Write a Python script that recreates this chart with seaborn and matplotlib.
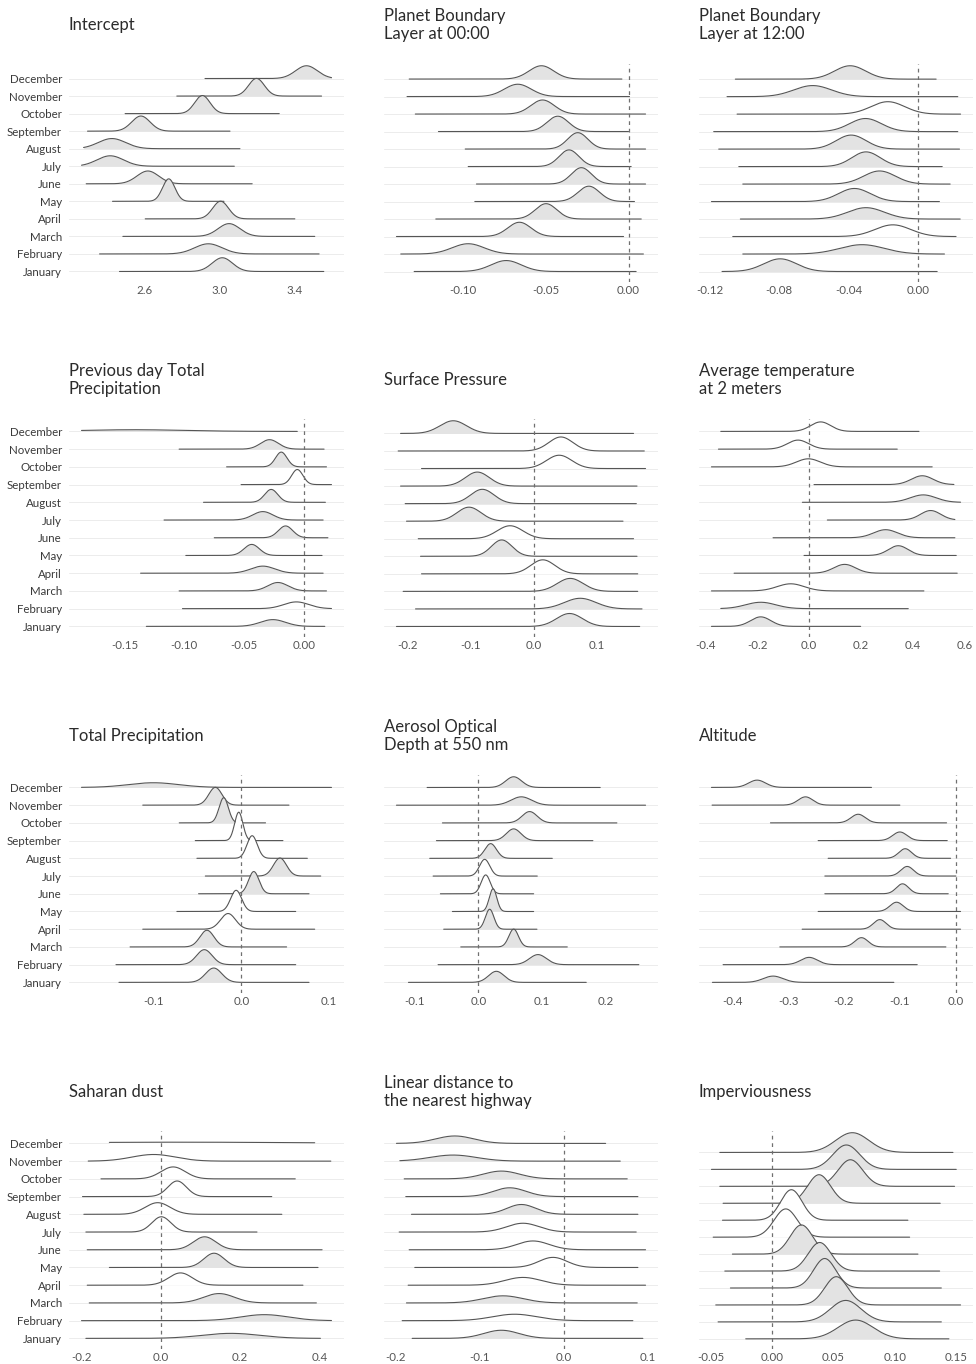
import numpy as np
import matplotlib
matplotlib.use("Agg")
import matplotlib.pyplot as plt
import seaborn as sns

# Posterior summaries per month (January .. December): mean, sd, sample min/max,
# and whether the 95% credible interval excludes zero (shaded).
MONTHS = ["January", "February", "March", "April", "May", "June", "July",
          "August", "September", "October", "November", "December"]

intercept_mean = [3.014, 2.940, 3.050, 3.005, 2.729, 2.618, 2.418, 2.427, 2.581, 2.908, 3.196, 3.462]
intercept_sd = [0.054, 0.073, 0.058, 0.042, 0.033, 0.058, 0.071, 0.073, 0.049, 0.041, 0.042, 0.058]
intercept_lo = [2.467, 2.361, 2.485, 2.604, 2.430, 2.290, 2.265, 2.276, 2.297, 2.497, 2.772, 2.922]
intercept_hi = [3.554, 3.529, 3.506, 3.400, 3.023, 3.173, 3.078, 3.108, 3.055, 3.317, 3.542, 3.595]
intercept_shaded = [1, 1, 1, 1, 1, 1, 1, 1, 1, 1, 1, 1]

pbl00_mean = [-0.0740, -0.0970, -0.0660, -0.0499, -0.0240, -0.0285, -0.0360, -0.0307, -0.0428, -0.0520, -0.0670, -0.0527]
pbl00_sd = [0.0091, 0.0097, 0.0070, 0.0065, 0.0065, 0.0061, 0.0060, 0.0061, 0.0065, 0.0071, 0.0081, 0.0075]
pbl00_lo = [-0.1297, -0.1378, -0.1404, -0.1166, -0.0930, -0.0920, -0.0970, -0.0988, -0.1150, -0.1290, -0.1340, -0.1327]
pbl00_hi = [0.0046, 0.0090, -0.0030, 0.0077, 0.0036, 0.0103, 0.0016, 0.0103, 0.0000, 0.0103, 0.0006, -0.0040]
pbl00_shaded = [1, 1, 1, 1, 1, 1, 1, 1, 1, 1, 1, 1]

pbl12_mean = [-0.0795, -0.0322, -0.0144, -0.0299, -0.0366, -0.0221, -0.0299, -0.0385, -0.0302, -0.0173, -0.0607, -0.0391]
pbl12_sd = [0.0095, 0.0129, 0.0103, 0.0106, 0.0092, 0.0092, 0.0082, 0.0086, 0.0092, 0.0097, 0.0109, 0.0090]
pbl12_lo = [-0.1131, -0.1011, -0.1069, -0.1025, -0.1192, -0.1011, -0.1034, -0.1150, -0.1179, -0.1044, -0.1102, -0.1054]
pbl12_hi = [0.0112, 0.0154, 0.0221, 0.0245, 0.0125, 0.0187, 0.0141, 0.0241, 0.0231, 0.0247, 0.0231, 0.0106]
pbl12_shaded = [1, 1, 0, 1, 1, 1, 1, 1, 1, 0, 1, 1]

prevprec_mean = [-0.0260, -0.0064, -0.0218, -0.0344, -0.0437, -0.0154, -0.0344, -0.0274, -0.0056, -0.0190, -0.0288, -0.1420]
prevprec_sd = [0.0105, 0.0105, 0.0084, 0.0100, 0.0064, 0.0060, 0.0084, 0.0055, 0.0047, 0.0048, 0.0075, 0.0420]
prevprec_lo = [-0.1318, -0.1016, -0.1044, -0.1366, -0.0988, -0.0750, -0.1170, -0.0840, -0.0526, -0.0647, -0.1044, -0.1860]
prevprec_hi = [0.0174, 0.0230, 0.0188, 0.0160, 0.0151, 0.0200, 0.0160, 0.0179, 0.0230, 0.0188, 0.0168, -0.0056]
prevprec_shaded = [1, 0, 1, 1, 1, 1, 1, 1, 0, 1, 1, 1]

pressure_mean = [0.0566, 0.0735, 0.0577, 0.0143, -0.0508, -0.0376, -0.1026, -0.0815, -0.0894, 0.0402, 0.0429, -0.1275]
pressure_sd = [0.0205, 0.0250, 0.0205, 0.0190, 0.0163, 0.0205, 0.0190, 0.0186, 0.0190, 0.0200, 0.0190, 0.0210]
pressure_lo = [-0.2175, -0.1873, -0.2069, -0.1778, -0.1794, -0.1830, -0.2016, -0.2037, -0.2110, -0.1778, -0.2148, -0.2110]
pressure_hi = [0.1677, 0.1714, 0.1646, 0.1646, 0.1635, 0.1580, 0.1413, 0.1624, 0.1635, 0.1770, 0.1750, 0.1580]
pressure_shaded = [1, 1, 1, 0, 1, 0, 1, 1, 1, 0, 0, 1]

temp_mean = [-0.1866, -0.1866, -0.0708, 0.1377, 0.3450, 0.2960, 0.4700, 0.4414, 0.4376, -0.0026, -0.0425, 0.0450]
temp_sd = [0.039, 0.058, 0.052, 0.042, 0.038, 0.046, 0.039, 0.050, 0.042, 0.046, 0.041, 0.039]
temp_lo = [-0.377, -0.341, -0.377, -0.2896, -0.0193, -0.139, 0.0708, -0.0257, 0.0193, -0.377, -0.350, -0.341]
temp_hi = [0.1995, 0.3835, 0.444, 0.5727, 0.569, 0.5637, 0.5637, 0.5856, 0.560, 0.476, 0.341, 0.425]
temp_shaded = [1, 1, 0, 1, 1, 1, 1, 1, 1, 0, 0, 0]

prec_mean = [-0.0317, -0.0424, -0.0394, -0.0153, -0.0061, 0.0141, 0.0440, 0.0122, -0.0031, -0.0203, -0.0298, -0.1006]
prec_sd = [0.0093, 0.0089, 0.0080, 0.0085, 0.0063, 0.0060, 0.0074, 0.0059, 0.0047, 0.0053, 0.0075, 0.0286]
prec_lo = [-0.1400, -0.1434, -0.1273, -0.1128, -0.0738, -0.0490, -0.0413, -0.0509, -0.0528, -0.0711, -0.1128, -0.1828]
prec_hi = [0.0772, 0.0620, 0.0516, 0.0837, 0.0620, 0.0772, 0.0906, 0.0753, 0.0474, 0.0275, 0.0543, 0.1029]
prec_shaded = [1, 1, 1, 0, 0, 1, 1, 0, 0, 1, 1, 1]

aod_mean = [0.0282, 0.0934, 0.0553, 0.0177, 0.0230, 0.0115, 0.0099, 0.0193, 0.0553, 0.0803, 0.0673, 0.0553]
aod_sd = [0.0121, 0.0133, 0.0075, 0.0067, 0.0059, 0.0071, 0.0080, 0.0091, 0.0114, 0.0118, 0.0160, 0.0125]
aod_lo = [-0.1095, -0.0631, -0.0276, -0.0543, -0.0407, -0.0595, -0.0709, -0.0762, -0.0657, -0.0563, -0.1283, -0.0803]
aod_hi = [0.1690, 0.2514, 0.1393, 0.0918, 0.0866, 0.0866, 0.0923, 0.1158, 0.1794, 0.2170, 0.2619, 0.1909]
aod_shaded = [1, 1, 1, 1, 1, 0, 0, 1, 1, 1, 1, 1]

alt_mean = [-0.3268, -0.2624, -0.1688, -0.1360, -0.1061, -0.0954, -0.0871, -0.0906, -0.1002, -0.1747, -0.2689, -0.3554]
alt_sd = [0.0174, 0.0150, 0.0118, 0.0114, 0.0118, 0.0110, 0.0114, 0.0114, 0.0127, 0.0127, 0.0132, 0.0150]
alt_lo = [-0.4353, -0.4162, -0.3148, -0.2749, -0.2463, -0.2343, -0.2343, -0.2284, -0.2463, -0.3315, -0.4359, -0.4370]
alt_hi = [-0.1109, -0.0692, -0.0179, 0.0083, 0.0083, -0.0137, 0.0000, -0.0095, -0.0155, -0.0167, -0.1002, -0.1509]
alt_shaded = [1, 1, 1, 1, 1, 1, 1, 1, 1, 1, 1, 1]

dust_mean = [0.1767, 0.2612, 0.1471, 0.0499, 0.1344, 0.1107, 0.0017, -0.0076, 0.0414, 0.0313, -0.0178, 0.0500]
dust_sd = [0.073, 0.061, 0.039, 0.0297, 0.0256, 0.0282, 0.0239, 0.0314, 0.0234, 0.0306, 0.055, 0.300]
dust_lo = [-0.1885, -0.1995, -0.1800, -0.1851, -0.1293, -0.1851, -0.1885, -0.1936, -0.1970, -0.1505, -0.1826, -0.1293]
dust_hi = [0.4024, 0.4303, 0.3922, 0.3584, 0.3964, 0.4066, 0.2426, 0.3052, 0.2798, 0.3390, 0.4286, 0.3880]
dust_shaded = [1, 1, 1, 0, 1, 1, 0, 0, 0, 0, 0, 0]

highway_mean = [-0.0741, -0.0583, -0.0721, -0.0484, -0.0127, -0.0365, -0.0484, -0.0503, -0.0642, -0.0741, -0.1316, -0.1296]
highway_sd = [0.0208, 0.0263, 0.0238, 0.0217, 0.0167, 0.0192, 0.0192, 0.0172, 0.0192, 0.0217, 0.0278, 0.0227]
highway_lo = [-0.1803, -0.1922, -0.1871, -0.1851, -0.1772, -0.1839, -0.1958, -0.1811, -0.1879, -0.1898, -0.1950, -0.1990]
highway_hi = [0.0943, 0.0824, 0.0876, 0.0975, 0.0884, 0.0975, 0.0864, 0.0884, 0.0884, 0.0757, 0.0674, 0.0500]
highway_shaded = [1, 0, 1, 0, 0, 0, 0, 1, 1, 1, 1, 1]

imperv_mean = [0.0680, 0.0599, 0.0522, 0.0427, 0.0386, 0.0237, 0.0109, 0.0155, 0.0381, 0.0637, 0.0604, 0.0653]
imperv_sd = [0.0143, 0.0125, 0.0095, 0.0091, 0.0094, 0.0092, 0.0095, 0.0088, 0.0094, 0.0101, 0.0110, 0.0136]
imperv_lo = [-0.0218, -0.0444, -0.0463, -0.0343, -0.0389, -0.0327, -0.0484, -0.0408, -0.0403, -0.0430, -0.0498, -0.0430]
imperv_hi = [0.1442, 0.1380, 0.1537, 0.1380, 0.1366, 0.1189, 0.1121, 0.1107, 0.1371, 0.1488, 0.1502, 0.1475]
imperv_shaded = [1, 1, 1, 1, 1, 1, 0, 0, 1, 1, 1, 1]

# Tick values and their printed labels per panel
intercept_ticks = [2.6, 3.0, 3.4]
intercept_ticklabels = ["2.6", "3.0", "3.4"]
pbl00_ticks = [-0.10, -0.05, 0.00]
pbl00_ticklabels = ["-0.10", "-0.05", "0.00"]
pbl12_ticks = [-0.12, -0.08, -0.04, 0.00]
pbl12_ticklabels = ["-0.12", "-0.08", "-0.04", "0.00"]
prevprec_ticks = [-0.15, -0.10, -0.05, 0.00]
prevprec_ticklabels = ["-0.15", "-0.10", "-0.05", "0.00"]
pressure_ticks = [-0.2, -0.1, 0.0, 0.1]
pressure_ticklabels = ["-0.2", "-0.1", "0.0", "0.1"]
temp_ticks = [-0.4, -0.2, 0.0, 0.2, 0.4, 0.6]
temp_ticklabels = ["-0.4", "-0.2", "0.0", "0.2", "0.4", "0.6"]
prec_ticks = [-0.1, 0.0, 0.1]
prec_ticklabels = ["-0.1", "0.0", "0.1"]
aod_ticks = [-0.1, 0.0, 0.1, 0.2]
aod_ticklabels = ["-0.1", "0.0", "0.1", "0.2"]
alt_ticks = [-0.4, -0.3, -0.2, -0.1, 0.0]
alt_ticklabels = ["-0.4", "-0.3", "-0.2", "-0.1", "0.0"]
dust_ticks = [-0.2, 0.0, 0.2, 0.4]
dust_ticklabels = ["-0.2", "0.0", "0.2", "0.4"]
highway_ticks = [-0.2, -0.1, 0.0, 0.1]
highway_ticklabels = ["-0.2", "-0.1", "0.0", "0.1"]
imperv_ticks = [-0.05, 0.00, 0.05, 0.10, 0.15]
imperv_ticklabels = ["-0.05", "0.00", "0.05", "0.10", "0.15"]

# (title, mean, sd, lo, hi, shaded, ticks, ticklabels, tallest ridge height in rows)
PANELS = [
    ("Intercept", intercept_mean, intercept_sd, intercept_lo, intercept_hi, intercept_shaded,
     intercept_ticks, intercept_ticklabels, 1.28),
    ("Planet Boundary\nLayer at 00:00", pbl00_mean, pbl00_sd, pbl00_lo, pbl00_hi, pbl00_shaded,
     pbl00_ticks, pbl00_ticklabels, 0.95),
    ("Planet Boundary\nLayer at 12:00", pbl12_mean, pbl12_sd, pbl12_lo, pbl12_hi, pbl12_shaded,
     pbl12_ticks, pbl12_ticklabels, 0.84),
    ("Previous day Total\nPrecipitation", prevprec_mean, prevprec_sd, prevprec_lo, prevprec_hi,
     prevprec_shaded, prevprec_ticks, prevprec_ticklabels, 0.85),
    ("Surface Pressure", pressure_mean, pressure_sd, pressure_lo, pressure_hi, pressure_shaded,
     pressure_ticks, pressure_ticklabels, 0.93),
    ("Average temperature\nat 2 meters", temp_mean, temp_sd, temp_lo, temp_hi, temp_shaded,
     temp_ticks, temp_ticklabels, 0.55),
    ("Total Precipitation", prec_mean, prec_sd, prec_lo, prec_hi, prec_shaded,
     prec_ticks, prec_ticklabels, 1.60),
    ("Aerosol Optical\nDepth at 550 nm", aod_mean, aod_sd, aod_lo, aod_hi, aod_shaded,
     aod_ticks, aod_ticklabels, 1.28),
    ("Altitude", alt_mean, alt_sd, alt_lo, alt_hi, alt_shaded,
     alt_ticks, alt_ticklabels, 0.56),
    ("Saharan dust", dust_mean, dust_sd, dust_lo, dust_hi, dust_shaded,
     dust_ticks, dust_ticklabels, 0.88),
    ("Linear distance to\nthe nearest highway", highway_mean, highway_sd, highway_lo, highway_hi,
     highway_shaded, highway_ticks, highway_ticklabels, 0.57),
    ("Imperviousness", imperv_mean, imperv_sd, imperv_lo, imperv_hi, imperv_shaded,
     imperv_ticks, imperv_ticklabels, 1.80),
]

sns.set_theme(style="white")
plt.rcParams["font.family"] = ["Lato", "DejaVu Sans"]

W, H = 976, 1364
fig = plt.figure(figsize=(W / 100, H / 100), dpi=100)
fig.patch.set_facecolor("white")

COL_PX = [(69, 344), (384, 658), (699, 973)]
ROW_BOTTOM_PX = [282, 637, 993, 1349]
AX_H_PX = 218

LINE = "#555555"
FILL = "#e3e3e3"
GRID = "#ececec"

for k, (title, mean, sd, lo, hi, shaded, ticks, ticklabels, scale) in enumerate(PANELS):
    r, c = divmod(k, 3)
    x0, x1 = COL_PX[c]
    ax = fig.add_axes([x0 / W, 1 - ROW_BOTTOM_PX[r] / H, (x1 - x0) / W, AX_H_PX / H])
    ax.set_facecolor("white")

    mean, sd, lo, hi = (np.asarray(a, float) for a in (mean, sd, lo, hi))
    ypos = np.arange(1, 13)
    peaks = scale * sd.min() / sd

    span = hi.max() - lo.min()
    ax.set_xlim(lo.min() - 0.05 * span, hi.max() + 0.05 * span)
    ax.set_ylim(0.4, max(12.7, (ypos + peaks).max() + 0.1))

    for y in ypos:
        ax.axhline(y, color=GRID, lw=0.7, zorder=0)

    # upper rows first, so each lower ridge is drawn in front of the one above
    for i in range(11, -1, -1):
        xs = np.linspace(lo[i], hi[i], 500)
        ys = ypos[i] + peaks[i] * np.exp(-0.5 * ((xs - mean[i]) / sd[i]) ** 2)
        z = 2 + 2 * (11 - i)
        ax.fill_between(xs, ypos[i], ys, color=FILL if shaded[i] else "white",
                        lw=0, zorder=z)
        sns.lineplot(x=xs, y=ys, ax=ax, color=LINE, lw=0.8, sort=False,
                     estimator=None, legend=False, zorder=z + 1)

    xmin, xmax = ax.get_xlim()
    if xmin < 0 < xmax:
        ax.axvline(0, color="#707070", lw=0.9, ls=(0, (3, 3)), zorder=60)

    ax.set_xticks(ticks)
    ax.set_xticklabels(ticklabels)
    ax.set_yticks(ypos)
    ax.set_yticklabels(MONTHS if c == 0 else [])
    ax.set_xlabel("")
    ax.set_ylabel("")
    ax.tick_params(axis="x", length=0, pad=2.5, labelsize=8.3, labelcolor="#555555")
    ax.tick_params(axis="y", length=0, pad=5, labelsize=8.3, labelcolor="#3a3a3a")
    ax.grid(False)
    for s in ax.spines.values():
        s.set_visible(False)

    top_px = ROW_BOTTOM_PX[r] - AX_H_PX
    fig.text(x0 / W, 1 - (top_px - 39) / H, title, ha="left", va="center",
             fontsize=12, color="#2b2b2b", linespacing=1.08)

fig.savefig("out.png", dpi=100, facecolor="white")
